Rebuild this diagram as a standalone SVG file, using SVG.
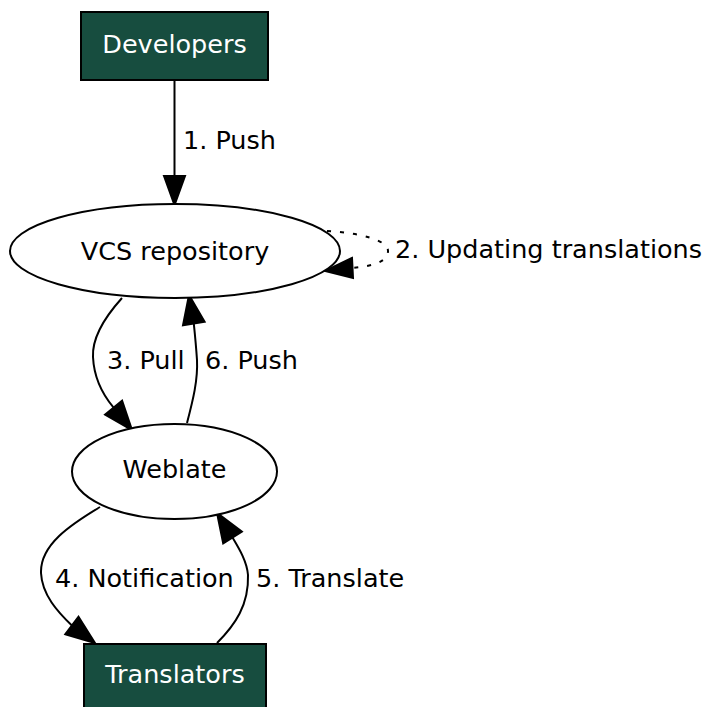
<svg xmlns="http://www.w3.org/2000/svg" width="707" height="707" viewBox="0 0 707 707">
<style>
text{font-family:"DejaVu Sans","Noto Sans",sans-serif;font-size:25.5px;fill:#000}
.c{text-anchor:middle}
.w{fill:#ffffff}
.box{fill:#174d3f;stroke:#000;stroke-width:2}
.ell{fill:#fff;stroke:#000;stroke-width:2}
.e{fill:none;stroke:#000;stroke-width:2}
.dot{stroke-dasharray:4,9}
.ah{fill:#000;stroke:#000;stroke-width:2}
</style>
<rect width="707" height="707" fill="#fff"/>
<g id="edges">
<g id="e1"><path class="e" d="M174.5,80 L174.5,176"/><polygon class="ah" points="164,176 174.5,205 185,176"/><text x="183" y="149">1. Push</text></g>
<g id="e2"><path class="e dot" d="M327,231 C360,233 388,240 388,251 C388,261 375,266 352,268"/><polygon class="ah" points="352,258 325,271 353,278"/><text x="395" y="258">2. Updating translations</text></g>
<g id="e3"><path class="e" d="M122,298 C104,318 92,338 93,357 C94,378 103,395 113.6,407.6"/><polygon class="ah" points="105.1,414.6 132,430 122.1,400.6"/><text x="107" y="369">3. Pull</text></g>
<g id="e6"><path class="e" d="M187,423 C193,400 198,380 197,360 C196,345 195,335 193.8,323.6"/><polygon class="ah" points="204.6,321.8 189,295 183,325.4"/><text x="205" y="369">6. Push</text></g>
<g id="e4"><path class="e" d="M100,507 C70,525 40,545 41,573 C42,595 58,612 71.9,625.5"/><polygon class="ah" points="65.3,634.3 95,643 78.5,616.7"/><text x="55" y="587">4. Notification</text></g>
<g id="e5"><path class="e" d="M217,643 C235,625 249,605 248,575 C247,562 240,550 232.5,537.5"/><polygon class="ah" points="241.8,531.6 217,513 223.2,543.4"/><text x="256" y="587">5. Translate</text></g>
</g>
<g id="developers"><rect class="box" x="81" y="12" width="187" height="68"/><text class="c w" x="174.5" y="53">Developers</text></g>
<g id="vcs"><ellipse class="ell" cx="175" cy="251" rx="165" ry="47"/><text class="c" x="175" y="260">VCS repository</text></g>
<g id="weblate"><ellipse class="ell" cx="174.5" cy="471.5" rx="102.5" ry="47.5"/><text class="c" x="174.5" y="478">Weblate</text></g>
<g id="translators"><rect class="box" x="84" y="644" width="182" height="70"/><text class="c w" x="175" y="683">Translators</text></g>
</svg>
